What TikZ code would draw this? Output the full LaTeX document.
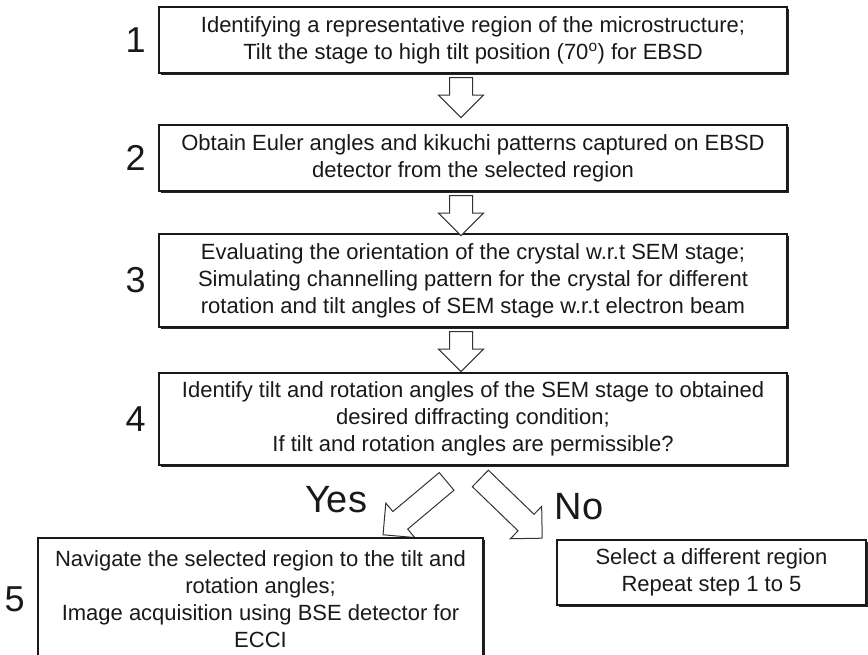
\documentclass[tikz,border=0pt]{standalone}
\usepackage{fontspec}
\setmainfont{Liberation Sans}
\usetikzlibrary{shapes,calc,positioning,shadows}

\begin{document}
\begin{tikzpicture}[x=1pt,y=-1pt]
	\tikzstyle{every node}=[font=\fontsize{22}{27}\selectfont, text=black!90]
	\tikzstyle{stepbox}=[draw=black!90, line width=2.2pt, fill=white, align=center, inner sep=0pt, drop shadow={shadow xshift=2pt,shadow yshift=-2pt,fill=black!85,opacity=1}]
	\tikzstyle{num}=[font=\fontsize{36}{36}\selectfont, inner sep=2pt]
	\tikzstyle{answer}=[font=\fontsize{38}{38}\selectfont]
	\tikzstyle{hollow}=[single arrow, draw=black!80, line width=1pt, fill=white, inner xsep=0pt, inner ysep=11pt, single arrow head extend=11pt, single arrow tip angle=90]
	\useasboundingbox (0,0) rectangle (868,655);
	\clip (0,0) rectangle (868,655);
	\node [stepbox, minimum width=628pt, minimum height=66pt] (b1) at (473,40) {Identifying a representative region of the microstructure;\\Tilt the stage to high tilt position (70\textsuperscript{o}) for EBSD};
	\node [stepbox, minimum width=628pt, minimum height=66pt] (b2) at (473,158) {Obtain Euler angles and kikuchi patterns captured on EBSD\\detector from the selected region};
	\node [stepbox, minimum width=628pt, minimum height=93pt] (b3) at (473,280.5) {Evaluating the orientation of the crystal w.r.t SEM stage;\\Simulating channelling pattern for the crystal for different\\rotation and tilt angles of SEM stage w.r.t electron beam};
	\node [stepbox, minimum width=628pt, minimum height=92pt] (b4) at (473,419) {Identify tilt and rotation angles of the SEM stage to obtained\\desired diffracting condition;\\If tilt and rotation angles are permissible?};
	\node [num, left=10pt of b1] (n1) {1};
	\node [num, left=10pt of b2] (n2) {2};
	\node [num, left=10pt of b3] (n3) {3};
	\node [num, left=10pt of b4] (n4) {4};
	% hollow arrows between the steps
	\node [hollow, minimum height=40pt, rotate=-90, anchor=tail] (a12) at ($(b1.south)+(-12,3)$) {};
	\node [hollow, minimum height=40pt, rotate=-90, anchor=tail] (a23) at ($(b2.south)+(-12,3)$) {};
	\node [hollow, minimum height=40pt, rotate=-90, anchor=tail] (a34) at ($(b3.south)+(-12,3)$) {};
	\node [hollow, minimum height=83pt, rotate=220, anchor=tail] (ayes) at ($(b4.south)+(-26,15)$) {};
	\node [hollow, minimum height=86pt, rotate=-44, anchor=tail] (ano) at ($(b4.south)+(7,12)$) {};
	\node [answer] (yes) at (336,500) {Yes};
	\node [answer] (no) at (579,507) {No};
	\node [stepbox, minimum width=445pt, minimum height=122pt] (b5) at (260.5,599) {Navigate the selected region to the tilt and\\rotation angles;\\Image acquisition using BSE detector for\\ECCI};
	\node [num, left=10pt of b5] (n5) {5};
	\node [stepbox, minimum width=309pt, minimum height=65pt] (b6) at (711.5,572.5) {Select a different region\\Repeat step 1 to 5};
\end{tikzpicture}
\end{document}
